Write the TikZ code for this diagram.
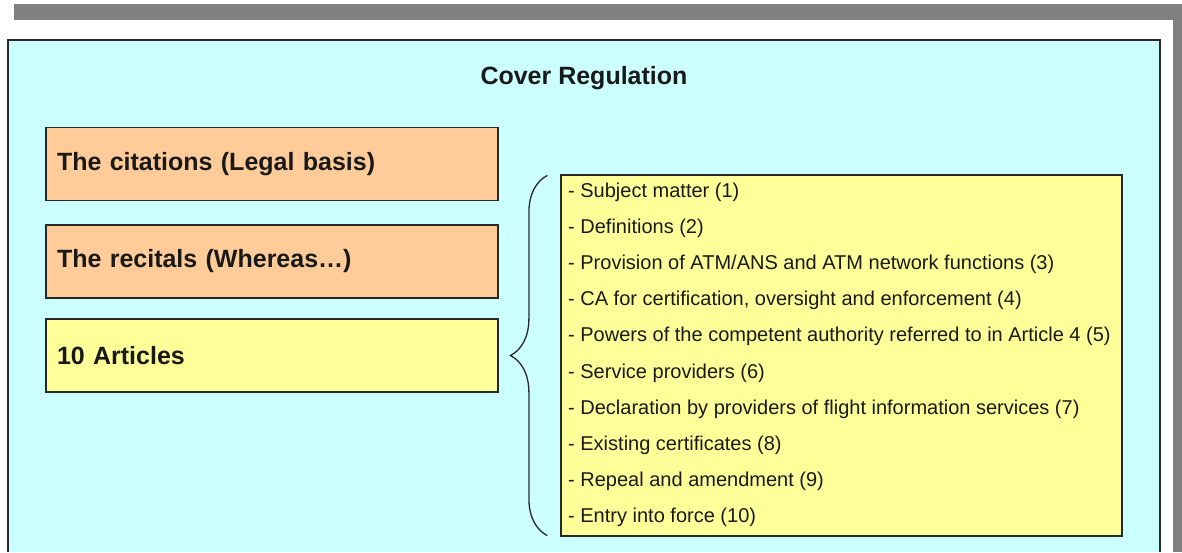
\documentclass[tikz,border=0pt]{standalone}
\usepackage{fontspec}
\setmainfont{Liberation Sans}
\usetikzlibrary{decorations.pathreplacing}
\definecolor{panelcyan}{RGB}{204,255,255}
\definecolor{boxorange}{RGB}{255,204,153}
\definecolor{boxyellow}{RGB}{255,255,153}
\definecolor{bargray}{RGB}{128,128,128}
\definecolor{edgedark}{RGB}{40,40,40}
\tikzset{
  lbox/.style={draw=edgedark, line width=1.2pt, rectangle, minimum width=452pt, minimum height=73pt,
    text width=430pt, inner xsep=11pt, align=left, font=\fontsize{25}{30}\selectfont\bfseries, text=black!90},
  listbox/.style={draw=edgedark, line width=1.2pt, rectangle, fill=boxyellow, minimum width=561pt, minimum height=361pt},
  item/.style={anchor=west, inner sep=0pt, font=\fontsize{20}{24}\selectfont, text=black!90},
  bracestyle/.style={draw=edgedark, line width=1.3pt, decorate, decoration={brace, amplitude=37pt, aspect=0.5}}
}
\begin{document}
\begin{tikzpicture}[x=1pt,y=-1pt]
\useasboundingbox (0,0) rectangle (1182,552);
\fill[white] (0,0) rectangle (1182,552);
% gray frame bars
\fill[bargray] (14,4) rectangle (1182,20);
\fill[bargray] (1173,4) rectangle (1182,552);
% panel
\fill[panelcyan] (8,40) rectangle (1160,552);
\draw[edgedark, line width=1.3pt] (8,552) -- (8,40) -- (1160,40) -- (1160,552);
% title
\node[font=\fontsize{25}{30}\selectfont\bfseries, text=black!90] (title) at (584,78) {Cover Regulation};
% left boxes
\node[lbox, fill=boxorange] (cit) at (272,164) {The citations (Legal basis)};
\node[lbox, fill=boxorange] (rec) at (272,261.5) {The recitals (Whereas\ldots)};
\node[lbox, fill=boxyellow] (art) at (272,355.5) {10 Articles};
% list box
\node[listbox] (list) at (841.5,355.5) {};
\node[item] (i1) at (568,192) {- Subject matter (1)};
\node[item] (i2) at (568,228) {- Definitions (2)};
\node[item] (i3) at (568,264) {- Provision of ATM/ANS and ATM network functions (3)};
\node[item] (i4) at (568,300) {- CA for certification, oversight and enforcement (4)};
\node[item] (i5) at (568,336) {- Powers of the competent authority referred to in Article 4 (5)};
\node[item] (i6) at (568,373) {- Service providers (6)};
\node[item] (i7) at (568,409) {- Declaration by providers of flight information services (7)};
\node[item] (i8) at (568,445) {- Existing certificates (8)};
\node[item] (i9) at (568,481) {- Repeal and amendment (9)};
\node[item] (i10) at (568,517) {- Entry into force (10)};
% brace
\coordinate (bbot) at ([xshift=-13pt,yshift=1pt]list.south west);
\coordinate (btop) at ([xshift=-13pt,yshift=-1pt]list.north west);
\draw[bracestyle] (bbot) -- (btop);
\end{tikzpicture}
\end{document}
